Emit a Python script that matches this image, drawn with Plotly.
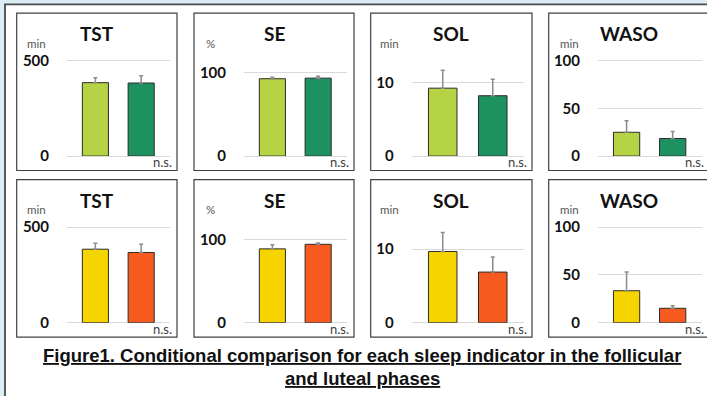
import plotly.graph_objects as go

W, H = 707, 396

# ---- data ----
indicators = ["TST", "SE", "SOL", "WASO"]
units = ["min", "%", "min", "min"]
phases = ["Follicular", "Luteal"]
tick_vals = [[0, 500], [0, 100], [0, 10], [0, 50, 100]]
axis_max = [560, 128.6, 14.57, 112]

# top row (condition 1)
row1_means = [[384, 382], [92.9, 93.6], [9.24, 8.21], [24.9, 18.4]]
row1_sd = [[26, 38], [1.9, 2.4], [2.44, 2.23], [12.0, 7.2]]
# bottom row (condition 2)
row2_means = [[384, 367], [88.6, 94.1], [9.68, 6.88], [33.4, 15.0]]
row2_sd = [[31, 43], [4.8, 1.6], [2.59, 2.05], [19.5, 2.7]]

row_colors = [["#B5D344", "#1D9160"], ["#F6D400", "#F65A1E"]]
caption1 = "Figure1. Conditional comparison for each sleep indicator in the follicular"
caption2 = "and luteal phases"

# ---- layout helpers (pixel -> paper) ----
def px(x):
    return x / W

def py(y):
    return 1 - y / H

box_left = [16.7, 194, 370.7, 548.7]
box_right = [177, 354, 532, 720]
plot_x = [(67, 170), (244, 347), (411.7, 524.3), (598, 701.7)]
row_box = [(13.3, 174), (183.3, 344)]
row_plot = [(50, 159.3), (220, 329.3)]

fig = go.Figure()
shapes = []
annotations = []

# outer frame
shapes.append(dict(type="rect", xref="paper", yref="paper",
                   x0=px(5), x1=px(730), y0=py(4.5), y1=py(420),
                   line=dict(color="#4A4A4A", width=1.8), fillcolor="white", layer="below"))

idx = 0
for r, (means, sds) in enumerate([(row1_means, row1_sd), (row2_means, row2_sd)]):
    for c in range(4):
        idx += 1
        xa = "x" if idx == 1 else f"x{idx}"
        ya = "y" if idx == 1 else f"y{idx}"
        fig.add_trace(go.Bar(
            x=phases, y=means[c], width=0.57,
            marker=dict(color=row_colors[r], line=dict(color="#2B2B2B", width=1)),
            error_y=dict(type="data", array=sds[c], arrayminus=[0, 0], symmetric=False,
                         color="#8C8C8C", thickness=1.5, width=2),
            xaxis=xa, yaxis=ya, showlegend=False, hoverinfo="skip"))
        xkey = "xaxis" if idx == 1 else f"xaxis{idx}"
        ykey = "yaxis" if idx == 1 else f"yaxis{idx}"
        x0p, x1p = plot_x[c]
        ytop, ybot = row_plot[r]
        fig.update_layout(**{
            xkey: dict(domain=[px(x0p), px(x1p)], anchor=ya, range=[-0.62, 1.63],
                       showticklabels=False, showgrid=False, zeroline=False,
                       showline=False, ticks=""),
            ykey: dict(domain=[py(ybot), py(ytop)], anchor=xa, range=[0, axis_max[c]],
                       tickvals=tick_vals[c], showgrid=True, gridcolor="#D9D9D9",
                       gridwidth=1, zeroline=True, zerolinecolor="#D9D9D9", zerolinewidth=1,
                       showline=False, ticks="", ticklabelstandoff=17,
                       tickfont=dict(family="Lato", size=15, color="#111111", weight="bold")),
        })
        # panel box
        by0, by1 = row_box[r]
        shapes.append(dict(type="rect", xref="paper", yref="paper",
                           x0=px(box_left[c]), x1=px(box_right[c]), y0=py(by0), y1=py(by1),
                           line=dict(color="#404040", width=1.2), fillcolor="white", layer="below"))
        # title
        annotations.append(dict(xref="paper", yref="paper", x=px(box_left[c] + 80),
                                y=py(by0 + 21), text=indicators[c], showarrow=False,
                                xanchor="center", yanchor="middle",
                                font=dict(family="Lato", size=19, color="#111111", weight="bold")))
        # unit
        ux = [20, 17, 19, 21][c]
        annotations.append(dict(xref="paper", yref="paper", x=px(box_left[c] + ux),
                                y=py(by0 + 31), text=units[c], showarrow=False,
                                xanchor="center", yanchor="middle",
                                font=dict(family="Lato", size=11.5, color="#555555")))
        # n.s.
        nsr = min(box_right[c], 709) - 3.5
        annotations.append(dict(xref="paper", yref="paper", x=px(nsr),
                                y=py(by0 + 152.5), text="n.s.", showarrow=False,
                                xanchor="right", yanchor="middle",
                                font=dict(family="Lato", size=13, color="#404040")))

annotations.append(dict(xref="paper", yref="paper", x=px(362), y=py(363),
                        text="<u>" + caption1 + "</u>", showarrow=False,
                        xanchor="center", yanchor="middle",
                        font=dict(family="Liberation Sans", size=18.5, color="#111111", weight="bold")))
annotations.append(dict(xref="paper", yref="paper", x=px(362), y=py(386),
                        text="<u>" + caption2 + "</u>", showarrow=False,
                        xanchor="center", yanchor="middle",
                        font=dict(family="Liberation Sans", size=18.5, color="#111111", weight="bold")))

fig.update_layout(width=W, height=H, margin=dict(l=0, r=0, t=0, b=0),
                  paper_bgcolor="#DCEEF5", plot_bgcolor="rgba(0,0,0,0)",
                  bargap=0.4, shapes=shapes, annotations=annotations)

fig.write_html("out.html")
